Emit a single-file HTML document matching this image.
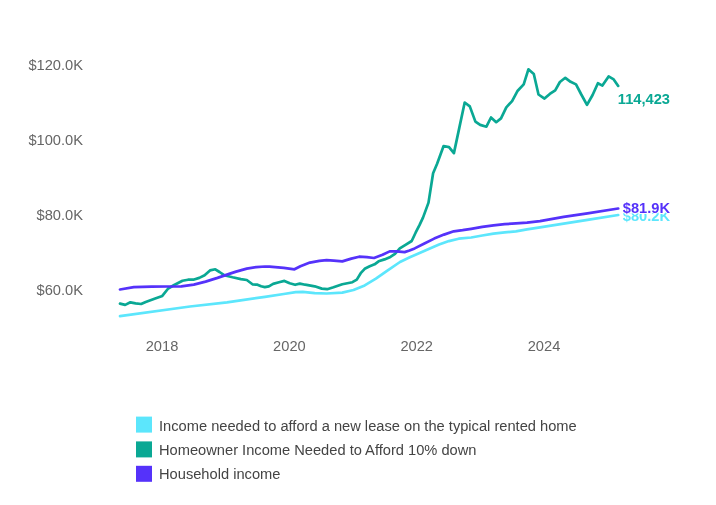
<!DOCTYPE html>
<html><head><meta charset="utf-8"><style>
html,body{margin:0;padding:0;background:#fff;width:716px;height:505px;overflow:hidden}
svg{display:block;will-change:transform}
text{font-family:"Liberation Sans",Arial,sans-serif}
.ax{font-size:14.67px;fill:#666}
.lg{font-size:14.67px;fill:#444}
.lb{font-size:14.67px;font-weight:bold}
path{fill:none;stroke-width:2.7;stroke-linejoin:round;stroke-linecap:round}
</style></head><body>
<svg width="716" height="505" viewBox="0 0 716 505" xmlns="http://www.w3.org/2000/svg">
<g class="ax" text-anchor="end">
<text x="83" y="70">$120.0K</text>
<text x="83" y="145">$100.0K</text>
<text x="83" y="220">$80.0K</text>
<text x="83" y="295">$60.0K</text>
</g>
<g class="ax" text-anchor="middle">
<text x="162" y="351">2018</text>
<text x="289.4" y="351">2020</text>
<text x="416.7" y="351">2022</text>
<text x="544" y="351">2024</text>
</g>
<path d="M120.0,316.1 L190.0,306.5 L227.0,302.4 L265.0,296.8 L283.8,294.0 L295.7,292.2 L302.8,291.9 L314.7,293.1 L326.6,293.5 L342.3,292.6 L353.5,290.0 L364.7,285.4 L375.9,278.7 L387.0,270.9 L400.0,262.0 L409.8,257.3 L419.6,252.9 L429.3,248.7 L439.1,244.6 L448.9,241.1 L458.7,238.7 L471.2,237.5 L482.3,235.5 L493.5,233.6 L504.7,232.4 L515.9,231.3 L527.0,229.4 L540.0,227.4 L563.7,223.7 L587.5,219.9 L618.2,215.0" stroke="#5ce6fc"/>
<path d="M120.0,303.6 L125.2,304.9 L130.4,302.3 L135.6,303.3 L141.1,304.0 L145.7,302.0 L155.2,298.6 L162.3,295.9 L168.2,288.5 L174.2,285.0 L182.5,280.8 L188.0,279.7 L193.3,279.7 L199.3,277.9 L204.6,275.2 L210.0,270.4 L215.3,269.3 L219.5,272.0 L224.2,275.2 L232.5,277.3 L240.9,279.1 L246.8,280.0 L252.8,284.5 L257.5,284.7 L261.1,286.3 L264.8,287.1 L268.9,286.3 L273.1,283.9 L279.0,282.3 L284.4,280.9 L289.7,283.3 L295.1,284.8 L299.8,283.6 L305.2,284.7 L314.7,286.3 L321.8,288.6 L327.2,289.2 L333.5,287.3 L342.3,284.3 L352.4,282.2 L356.8,279.6 L360.7,273.2 L364.7,268.8 L369.7,266.3 L374.6,264.3 L378.6,261.3 L384.5,259.4 L390.4,256.9 L395.0,253.9 L399.8,248.4 L405.9,244.6 L411.7,241.0 L415.6,232.7 L419.6,224.9 L423.0,217.6 L428.5,202.6 L433.1,173.3 L437.1,163.8 L443.6,146.0 L449.0,147.1 L453.9,153.1 L459.4,127.4 L464.7,102.5 L469.8,106.4 L475.4,121.6 L480.2,124.9 L486.4,126.7 L491.0,117.5 L496.2,122.2 L501.0,118.4 L506.3,107.3 L512.1,101.1 L517.7,90.7 L523.7,84.4 L528.4,69.3 L533.8,74.0 L538.5,94.5 L544.5,98.6 L549.8,93.9 L555.2,90.3 L559.9,82.0 L565.3,77.8 L570.6,81.8 L576.0,84.4 L581.3,94.5 L587.0,104.8 L592.6,95.0 L597.9,83.2 L602.4,85.6 L608.6,76.4 L613.7,79.4 L618.2,85.9" stroke="#0aa894"/>
<path d="M120.0,289.5 L133.8,287.2 L151.6,286.7 L167.1,286.5 L181.3,286.3 L193.8,284.6 L205.6,281.6 L217.5,277.9 L230.0,273.6 L236.1,271.6 L246.8,268.6 L256.3,267.1 L265.0,266.5 L269.5,266.7 L283.8,267.9 L294.5,269.3 L300.4,266.3 L309.9,262.6 L319.4,260.8 L326.6,260.1 L333.7,260.6 L342.3,261.4 L351.3,258.6 L359.1,256.7 L366.9,257.2 L374.0,258.0 L382.5,254.8 L389.7,251.4 L396.6,251.3 L404.6,252.1 L409.5,250.5 L414.7,248.4 L424.4,243.5 L434.2,238.6 L444.0,234.6 L453.8,231.3 L462.6,230.2 L471.2,228.8 L482.3,226.8 L493.5,225.3 L504.7,224.2 L515.9,223.4 L527.0,222.6 L540.0,221.1 L563.7,216.9 L587.5,213.3 L618.2,208.5" stroke="#5532fa"/>
<g class="lb" text-anchor="end">
<text x="670" y="103.9" fill="#0aa894">114,423</text>
<text x="670" y="220.6" fill="#5ce6fc">$80.2K</text>
<text x="670" y="212.8" fill="#5532fa" stroke="#fff" stroke-width="2" paint-order="stroke">$81.9K</text>
</g>
<rect x="136" y="416.6" width="16" height="16" fill="#5ce6fc"/>
<rect x="136" y="441.4" width="16" height="16" fill="#0aa894"/>
<rect x="136" y="465.8" width="16" height="16" fill="#5532fa"/>
<g class="lg">
<text x="159" y="430.6">Income needed to afford a new lease on the typical rented home</text>
<text x="159" y="455">Homeowner Income Needed to Afford 10% down</text>
<text x="159" y="479.4">Household income</text>
</g>
</svg>
</body></html>
